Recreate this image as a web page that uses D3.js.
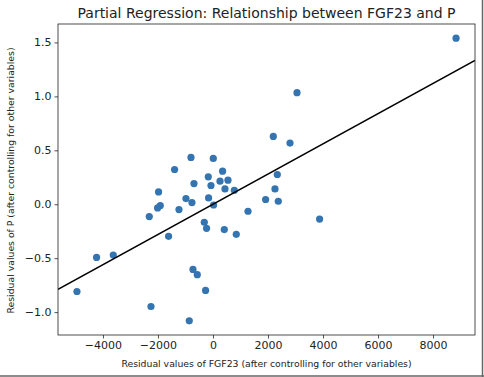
<!DOCTYPE html>
<html>
<head>
<meta charset="utf-8">
<script src="https://cdn.jsdelivr.net/npm/d3@7"></script>
<style>
  html, body { margin: 0; padding: 0; background: #fff; }
  svg { display: block; }
</style>
</head>
<body>
<svg id="chart" width="484" height="377"></svg>
<script>
// Residual data
const residFGF23 = [-800, 11, -1396, 349, -171, 255, 545, -691, -73, 436, 775, -1978, -982, -160, -764,
  -1916, -2014, 22, -1236, 1273, -2316, -316, -233, 411, 847, -1614, -4232, -3625, -727, -571,
  -4945, -269, -2254, -862, 2193, 2800, 2338, 2254, 1913, 2374, 3876, 8836, 3054];
const residP = [0.434, 0.425, 0.322, 0.307, 0.254, 0.214, 0.223, 0.192, 0.174, 0.142, 0.130, 0.114, 0.053, 0.059, 0.016,
  -0.012, -0.034, -0.007, -0.049, -0.065, -0.114, -0.167, -0.223, -0.235, -0.279, -0.297, -0.493, -0.471, -0.604, -0.653,
  -0.809, -0.799, -0.948, -1.081, 0.629, 0.567, 0.276, 0.142, 0.044, 0.028, -0.137, 1.540, 1.034];
const slope = 0.00014;
const intercept = 0.0;
const xTicks = [-4000, -2000, 0, 2000, 4000, 6000, 8000];
const yTicks = [-1.0, -0.5, 0.0, 0.5, 1.0, 1.5];
const title = "Partial Regression: Relationship between FGF23 and P";
const xLabel = "Residual values of FGF23 (after controlling for other variables)";
const yLabel = "Residual values of P (after controlling for other variables)";

const svg = d3.select("#chart");
const L = 58, R = 475, T = 24, B = 335;
const font = "DejaVu Sans, sans-serif";

// matplotlib-like 5% margins
const xe = d3.extent(residFGF23), ye = d3.extent(residP);
const xm = (xe[1] - xe[0]) * 0.05, ym = (ye[1] - ye[0]) * 0.05;
const x = d3.scaleLinear().domain([xe[0] - xm, xe[1] + xm]).range([L, R]);
const y = d3.scaleLinear().domain([ye[0] - ym, ye[1] + ym]).range([B, T]);

svg.append("clipPath").attr("id", "clip")
  .append("rect").attr("x", L).attr("y", T).attr("width", R - L).attr("height", B - T);

// points
svg.append("g").attr("clip-path", "url(#clip)")
  .selectAll("circle").data(residFGF23.map((v, i) => [v, residP[i]])).join("circle")
  .attr("cx", d => x(d[0])).attr("cy", d => y(d[1])).attr("r", 3.6)
  .attr("fill", "#3474b1");

// regression line across the axis range
const xd = x.domain();
svg.append("line").attr("clip-path", "url(#clip)")
  .attr("x1", x(xd[0])).attr("y1", y(slope * xd[0] + intercept))
  .attr("x2", x(xd[1])).attr("y2", y(slope * xd[1] + intercept))
  .attr("stroke", "#000").attr("stroke-width", 1.6);

// axes
const xAxis = svg.append("g").attr("transform", `translate(0,${B})`)
  .call(d3.axisBottom(x).tickValues(xTicks).tickSize(3.5).tickPadding(3)
    .tickFormat(d => d3.format("d")(d).replace("-", "\u2212")));
const yAxis = svg.append("g").attr("transform", `translate(${L},0)`)
  .call(d3.axisLeft(y).tickValues(yTicks).tickSize(3.5).tickPadding(3)
    .tickFormat(d => d3.format(".1f")(d).replace("-", "\u2212")));
[xAxis, yAxis].forEach(g => {
  g.select(".domain").remove();
  g.selectAll("line").attr("stroke", "#222").attr("stroke-width", 0.8);
  g.selectAll("text").attr("font-family", font).attr("font-size", 11).attr("fill", "#222");
});

// frame
svg.append("rect").attr("x", L).attr("y", T).attr("width", R - L).attr("height", B - T)
  .attr("fill", "none").attr("stroke", "#222").attr("stroke-width", 0.8);

// labels
svg.append("text").attr("x", (L + R) / 2).attr("y", 18).attr("text-anchor", "middle")
  .attr("font-family", font).attr("font-size", 14).attr("fill", "#222").text(title);
svg.append("text").attr("x", (L + R) / 2).attr("y", 367).attr("text-anchor", "middle")
  .attr("font-family", font).attr("font-size", 9.3).attr("fill", "#222").text(xLabel);
svg.append("text").attr("transform", `translate(14,${(T + B) / 2 + 1}) rotate(-90)`).attr("text-anchor", "middle")
  .attr("font-family", font).attr("font-size", 9.3).attr("fill", "#222").text(yLabel);

// screenshot border (right and bottom)
svg.append("line").attr("x1", 482.5).attr("y1", 0).attr("x2", 482.5).attr("y2", 377)
  .attr("stroke", "#666").attr("stroke-width", 1.5);
svg.append("line").attr("x1", 0).attr("y1", 376).attr("x2", 484).attr("y2", 376)
  .attr("stroke", "#666").attr("stroke-width", 1.5);
</script>
</body>
</html>
